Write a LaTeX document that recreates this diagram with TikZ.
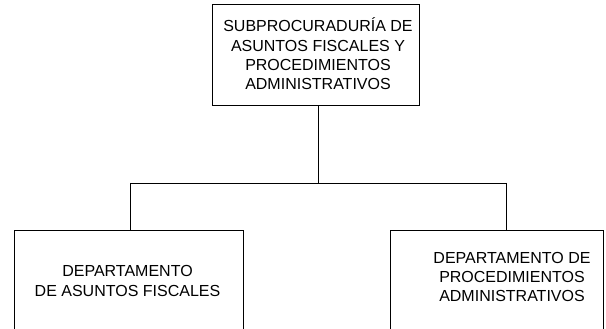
\documentclass[tikz,border=0pt]{standalone}
\usepackage{fontspec}
\setmainfont{Liberation Sans}
\usetikzlibrary{positioning}
\tikzset{
  orgbox/.style={draw, line width=0.8pt, rectangle, inner sep=0pt},
  orgtext/.style={align=center, inner sep=0pt, font=\fontsize{16}{19.3}\selectfont},
  orgline/.style={line width=0.8pt}
}

\begin{document}
\begin{tikzpicture}[x=1pt, y=1pt]
    \useasboundingbox (0,0) rectangle (606,329);
    % top unit
    \node[orgbox, minimum width=207, minimum height=101] (subp) at (315.5,274.5) {};
    \node[orgtext] (subptxt) at (318,275) {SUBPROCURADURÍA DE\\ASUNTOS FISCALES Y\\PROCEDIMIENTOS\\ADMINISTRATIVOS};
    % departments
    \node[orgbox, minimum width=229, minimum height=110] (fisc) at (128.5,44) {};
    \node[orgtext] (fisctxt) at (127.5,48) {DEPARTAMENTO\\DE ASUNTOS FISCALES};
    \node[orgbox, minimum width=213, minimum height=110] (proc) at (496.5,44) {};
    \node[orgtext] (proctxt) at (512,52) {DEPARTAMENTO DE\\PROCEDIMIENTOS\\ADMINISTRATIVOS};
    % connectors
    \coordinate (bus) at (318,146);
    \coordinate (busl) at (130,146);
    \coordinate (busr) at (506,146);
    \draw[orgline] (subp.south -| bus) -- (bus);
    \draw[orgline] (busl) -- (busr);
    \draw[orgline] (busl) -- (busl |- fisc.north);
    \draw[orgline] (busr) -- (busr |- proc.north);
\end{tikzpicture}
\end{document}
